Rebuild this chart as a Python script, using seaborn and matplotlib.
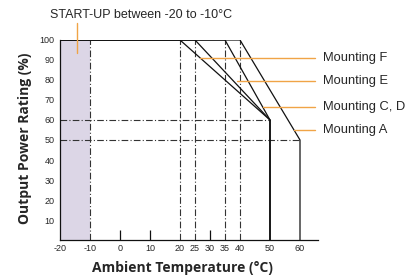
import numpy as np
import pandas as pd
import matplotlib
matplotlib.use("Agg")
import matplotlib.pyplot as plt
import seaborn as sns

# derating curves
mountings = ["Mounting F", "Mounting E", "Mounting C, D", "Mounting A"]
knee_start = [20, 25, 35, 40]
knee_end = [50, 50, 50, 60]
end_power = [60, 60, 60, 50]
label_y = [91, 79.5, 66.5, 55]
leader_x = [26.7, 39, 47.7, 58]

x_ticks = [-20, -10, 0, 10, 20, 25, 30, 35, 40, 50, 60]
tick_marks = [0, 10, 30]
y_ticks = [10, 20, 30, 40, 50, 60, 70, 80, 90, 100]
startup_range = [-20, -10]

rows = []
for name, s, e, p in zip(mountings, knee_start, knee_end, end_power):
    for i, (t, v) in enumerate([(-20, 100), (s, 100), (e, p), (e, 0)]):
        rows.append({"temp": t, "power": v, "mounting": name, "order": i})
df = pd.DataFrame(rows)

sns.set_style("white")
plt.rcParams["font.family"] = ["Liberation Sans", "DejaVu Sans"]

fig = plt.figure(figsize=(4.2, 2.8), dpi=100)
ax = fig.add_axes([60 / 420, 40 / 280, 258 / 420, 200 / 280])

orange = "#f0a447"
ink = "#111111"
dashdot = (0, (6, 2, 1, 2))

ax.axvspan(startup_range[0], startup_range[1], ymin=0, ymax=1, color="#dcd6e6", lw=0)

# dash-dot guides
for t in [startup_range[1]] + knee_start:
    ax.plot([t, t], [0, 100], color="#333333", lw=0.8, ls=dashdot)
for p, e in zip(end_power[2:], knee_end[2:]):
    ax.plot([-20, e], [p, p], color="#333333", lw=0.8, ls=dashdot)

sns.lineplot(data=df, x="temp", y="power", hue="mounting", units="mounting",
             estimator=None, sort=False, palette=[ink] * 4, lw=0.9,
             legend=False, ax=ax)

# short inward tick marks on the x axis
ax.vlines(tick_marks, 0, 5, color=ink, lw=0.9)

# labels with orange leaders
for name, y, lx in zip(mountings, label_y, leader_x):
    ax.plot([lx, 65], [y, y], color=orange, lw=1.0, clip_on=False)
    ax.text(67.7, y, name, fontsize=9.3, va="center", ha="left", clip_on=False)

ax.plot([-14.2, -14.2], [93.5, 108.5], color=orange, lw=1.0, clip_on=False)
ax.text(-23.3, 112.5, "START-UP between -20 to -10°C", fontsize=9,
        va="center", ha="left", clip_on=False)

ax.set_xlim(-20, 66)
ax.set_ylim(0, 100)
ax.set_xticks(x_ticks)
ax.set_xticklabels([str(t) for t in x_ticks])
ax.set_yticks(y_ticks)
ax.tick_params(axis="both", which="major", length=0, labelsize=6.5)
ax.tick_params(axis="x", which="major", pad=3)
ax.tick_params(axis="y", which="major", pad=4)

for sp in ["top", "right"]:
    ax.spines[sp].set_visible(False)
for sp in ["left", "bottom"]:
    ax.spines[sp].set_color(ink)
    ax.spines[sp].set_linewidth(0.9)

ax.set_xlabel("Ambient Temperature (°C)", fontsize=10, fontweight="bold",
              family="Open Sans")
ax.set_ylabel("Output Power Rating (%)", fontsize=10, fontweight="bold",
              family="Open Sans")
ax.xaxis.set_label_coords((182 - 60) / 258, -28 / 200)
ax.xaxis.label.set_va("center")
ax.yaxis.set_label_coords((25 - 60) / 258, (240 - 138) / 200)
ax.yaxis.label.set_va("center")

fig.savefig("out.png", dpi=100)
